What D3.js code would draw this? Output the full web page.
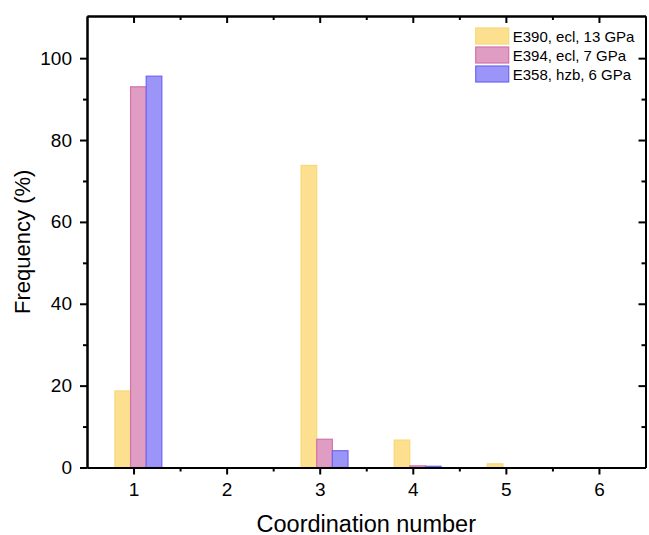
<!DOCTYPE html>
<html>
<head>
<meta charset="utf-8">
<script src="https://cdn.jsdelivr.net/npm/d3@7"></script>
<style>
  body { margin: 0; background: #fff; }
  text { font-family: "Liberation Sans", Arial, sans-serif; fill: #000; }
</style>
</head>
<body>
<div id="chart"></div>
<script>
// data
var categories = [1, 2, 3, 4, 5, 6];
var seriesNames = ["E390, ecl, 13 GPa", "E394, ecl, 7 GPa", "E358, hzb, 6 GPa"];
var e390 = [18.7, 0, 73.8, 6.7, 0.9, 0];
var e394 = [93.0, 0, 6.9, 0.4, 0, 0];
var e358 = [95.6, 0, 4.1, 0.3, 0, 0];
var yTicks = [0, 20, 40, 60, 80, 100];

var seriesValues = [e390, e394, e358];
var fills = ["#fde08f", "#e09dc3", "#9a95f7"];
var strokes = ["#f9d877", "#d472a8", "#6f67f2"];

// svg size
var svgWidth = 649;
var svgHeight = 535;

var margin = { top: 16, right: 3.5, bottom: 67.5, left: 87 };
var width = svgWidth - margin.left - margin.right;
var height = svgHeight - margin.top - margin.bottom;

var svg = d3.select("#chart")
  .append("svg")
  .attr("width", svgWidth)
  .attr("height", svgHeight);

var chartGroup = svg.append("g")
  .attr("transform", `translate(${margin.left}, ${margin.top})`);

// scales
var xScale = d3.scaleLinear().domain([0.5, 6.5]).range([0, width]);
var yScale = d3.scaleLinear().domain([0, 110.3]).range([height, 0]);

// bar layout in x units
var barW = 0.168;
var groupStart = -0.2;

seriesValues.forEach(function(vals, si) {
  chartGroup.append("g")
    .selectAll("rect")
    .data(vals.map((v, i) => ({ c: categories[i], v: v })).filter(d => d.v > 0))
    .enter()
    .append("rect")
    .attr("x", d => xScale(d.c + groupStart + si * barW))
    .attr("width", xScale(barW) - xScale(0))
    .attr("y", d => yScale(d.v))
    .attr("height", d => yScale(0) - yScale(d.v))
    .attr("fill", fills[si])
    .attr("stroke", strokes[si])
    .attr("stroke-width", 1.2);
});

// axes
var xMinor = d3.range(1.5, 6.5, 1);
var yMinor = d3.range(10, 110, 20);

var xAxis = d3.axisBottom(xScale).tickValues(categories).tickSize(7).tickSizeOuter(0).tickPadding(8).tickFormat(d3.format("d"));
var xAxisMinor = d3.axisBottom(xScale).tickValues(xMinor).tickSize(4).tickSizeOuter(0).tickFormat("");
var yAxis = d3.axisLeft(yScale).tickValues(yTicks).tickSize(7).tickSizeOuter(0).tickPadding(8);
var yAxisMinor = d3.axisLeft(yScale).tickValues(yMinor).tickSize(4).tickSizeOuter(0).tickFormat("");
var xTop = d3.axisBottom(xScale).tickValues(categories).tickSize(7).tickSizeOuter(0).tickFormat("");
var xTopMinor = d3.axisBottom(xScale).tickValues(xMinor).tickSize(4).tickSizeOuter(0).tickFormat("");
var yRight = d3.axisLeft(yScale).tickValues(yTicks).tickSize(7).tickSizeOuter(0).tickFormat("");
var yRightMinor = d3.axisLeft(yScale).tickValues(yMinor).tickSize(4).tickSizeOuter(0).tickFormat("");

function styleAxis(g) {
  g.selectAll("path").attr("stroke", "#000").attr("stroke-width", 2);
  g.selectAll("line").attr("stroke", "#000").attr("stroke-width", 2);
  g.selectAll("text").attr("font-size", 19).attr("font-family", "Liberation Sans, Arial, sans-serif");
}

chartGroup.append("g").attr("transform", `translate(0, ${height})`).call(xAxisMinor).call(styleAxis);
chartGroup.append("g").attr("transform", `translate(0, ${height})`).call(xAxis).call(styleAxis);
chartGroup.append("g").call(yAxisMinor).call(styleAxis);
chartGroup.append("g").call(yAxis).call(styleAxis);
// mirrored axes, ticks pointing inward
chartGroup.append("g").call(xTopMinor).call(styleAxis);
chartGroup.append("g").call(xTop).call(styleAxis);
chartGroup.append("g").attr("transform", `translate(${width}, 0)`).call(yRightMinor).call(styleAxis);
chartGroup.append("g").attr("transform", `translate(${width}, 0)`).call(yRight).call(styleAxis);

// axis titles
chartGroup.append("text")
  .attr("x", width / 2)
  .attr("y", height + 64)
  .attr("text-anchor", "middle")
  .attr("font-size", 23.5)
  .text("Coordination number");

chartGroup.append("text")
  .attr("transform", "rotate(-90)")
  .attr("x", -height / 2)
  .attr("y", -57)
  .attr("text-anchor", "middle")
  .attr("font-size", 22)
  .text("Frequency (%)");

// legend
var legend = chartGroup.append("g")
  .attr("transform", `translate(${xScale(4.676)}, 12)`);

seriesNames.forEach(function(name, i) {
  var row = legend.append("g").attr("transform", `translate(0, ${i * 19})`);
  row.append("rect")
    .attr("width", 33)
    .attr("height", 16)
    .attr("fill", fills[i])
    .attr("stroke", strokes[i])
    .attr("stroke-width", 1.2);
  row.append("text")
    .attr("x", 37)
    .attr("y", 13.5)
    .attr("font-size", 15)
    .text(name);
});
</script>
</body>
</html>
